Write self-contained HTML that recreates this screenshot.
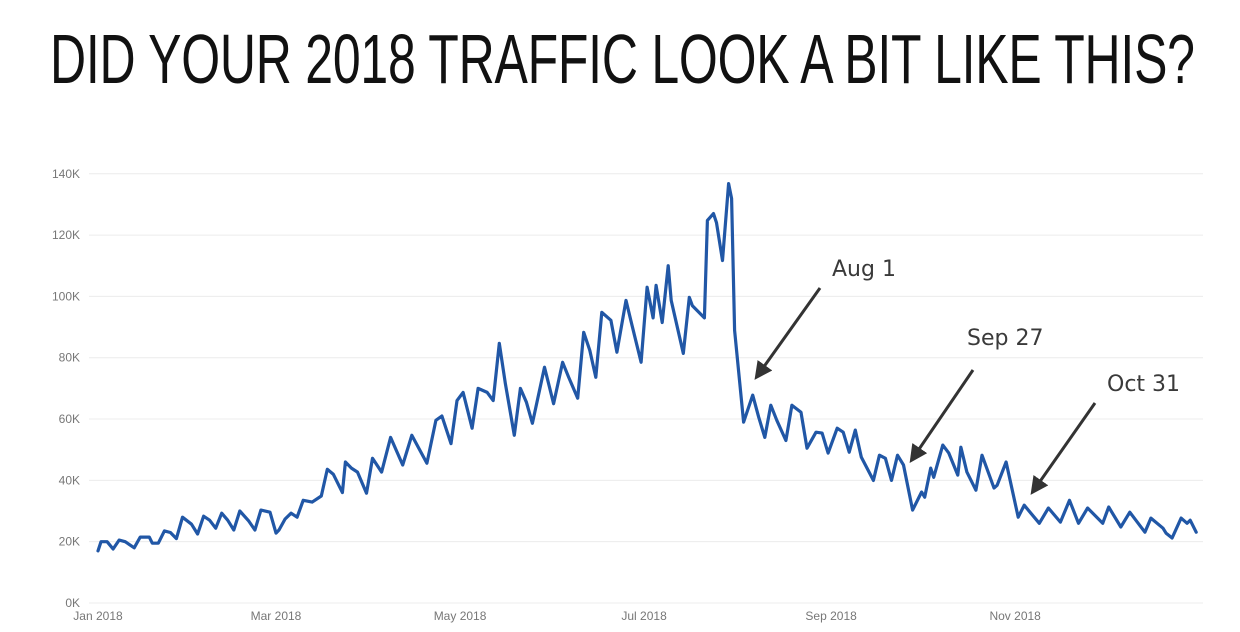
<!DOCTYPE html>
<html><head><meta charset="utf-8"><style>
html,body{margin:0;padding:0;background:#fff;width:1240px;height:632px;overflow:hidden}
svg{display:block}
</style></head><body>
<svg id="chart" width="1240" height="632" xmlns="http://www.w3.org/2000/svg">
<g transform="translate(0,83) scale(1,1.4)">
<text x="50" y="0" font-family="'Liberation Sans Narrow','Liberation Sans',sans-serif" font-size="50" fill="#111" textLength="1145" lengthAdjust="spacing">DID YOUR 2018 TRAFFIC LOOK A BIT LIKE THIS?</text>
</g>
<g id="grid"></g><g id="yticks"></g><g id="xticks"></g><g id="series"></g>
<g id="annot" font-family="'DejaVu Sans','Liberation Sans',sans-serif" font-size="22" fill="#3a3a3a"></g>
</svg>
<script>
const yTicks=[0,20,40,60,80,100,120,140];
const yTickLabels=["0K","20K","40K","60K","80K","100K","120K","140K"];
const xTickDays=[0,59,120,181,243,304];
const xTickLabels=["Jan 2018","Mar 2018","May 2018","Jul 2018","Sep 2018","Nov 2018"];
const days=[0,1,3,5,7,9,12,14,17,18,20,22,24,26,28,31,33,35,37,39,41,43,45,47,50,52,54,57,59,60,62,64,66,68,71,74,76,78,81,82,84,86,89,91,94,97,101,104,109,112,114,117,119,121,124,126,129,131,133,135,138,140,142,144,148,151,154,156,159,161,163,165,167,170,172,175,177,180,182,184,185,187,189,190,194,196,197,201,202,204,205,207,209,210,211,214,217,219,221,223,225,228,230,233,235,238,240,242,245,247,249,251,253,257,259,261,263,265,267,270,273,274,276,277,280,282,285,286,288,291,293,297,298,301,305,307,312,315,319,322,325,328,333,335,339,342,347,349,353,354,356,359,361,362,364];
const visits=[17,20,20,17.6,20.5,20,18,21.5,21.5,19.5,19.5,23.5,23,21,28,25.7,22.5,28.3,27,24.4,29.3,27,23.8,30,26.7,23.8,30.3,29.6,22.8,23.8,27.4,29.3,28,33.5,32.9,34.9,43.6,42,36,46,44,42.7,35.8,47.2,42.7,54,45,54.7,45.6,59.6,61,52,66,68.7,57,70,68.7,66,84.7,71.7,54.7,70,65.5,58.6,76.9,65,78.5,73.6,66.8,88.3,82.4,73.6,94.8,92.2,81.8,98.7,90.6,78.5,103,93,103.6,91.5,110,98.7,81.4,99.7,97,93,124.8,127,124,111.7,136.8,131.9,88.9,59,67.8,60.6,54,64.5,59.6,53,64.5,62.2,50.5,55.7,55.4,48.9,57,55.7,49.2,56.4,47.6,40,48.2,47.2,40,48.2,45,30.3,36.2,34.5,44,41,51.5,48.9,41.7,50.8,42.7,36.8,48.2,37.5,38.4,46,28,31.9,26,31,26.4,33.5,26,31,26,31.3,24.8,29.6,23.1,27.7,24.4,22.8,21.2,27.7,26,27,23.1];
const NS='http://www.w3.org/2000/svg';
const X=d=>98+d*3.017;
const Y=v=>603-v*3.066;
function mk(tag,attrs,parent){const e=document.createElementNS(NS,tag);for(const k in attrs)e.setAttribute(k,attrs[k]);document.getElementById(parent).appendChild(e);return e;}
yTicks.forEach((t,i)=>{
  const l=mk('line',{x1:89,x2:1203,y1:Y(t),y2:Y(t),stroke:'#ececec','stroke-width':1},'grid');
  
  
  const tx=mk('text',{x:80,y:Y(t)+4,'text-anchor':'end','font-family':'Liberation Sans, sans-serif','font-size':12,fill:'#777'},'yticks');
  tx.textContent=yTickLabels[i];
  
  
});
xTickDays.forEach((d,i)=>{
  const tx=mk('text',{x:X(d),y:620,'text-anchor':'middle','font-family':'Liberation Sans, sans-serif','font-size':12,fill:'#777'},'xticks');
  tx.textContent=xTickLabels[i];
  
  
});
const p=mk('polyline',{points:days.map((d,i)=>X(d).toFixed(1)+','+Y(visits[i]).toFixed(1)).join(' '),fill:'none',stroke:'#2157a6','stroke-width':3.2,'stroke-linejoin':'round','stroke-linecap':'round'},'series');


const notes=[["Aug 1",832,276,820,288,758,375],["Sep 27",967,345,973,370,913,458],["Oct 31",1107,391,1095,403,1034,490]];
mk('defs',{},'annot').innerHTML='<marker id="ah" markerWidth="6" markerHeight="6" refX="4" refY="3" orient="auto"><path d="M0,0 L6,3 L0,6 z" fill="#333"/></marker>';
notes.forEach(n=>{
  const t=mk('text',{x:n[1],y:n[2]},'annot');t.textContent=n[0];
  
  
  const a=mk('line',{x1:n[3],y1:n[4],x2:n[5],y2:n[6],stroke:'#333','stroke-width':3,'marker-end':'url(#ah)'},'annot');
  
  
});
</script>
</body></html>
